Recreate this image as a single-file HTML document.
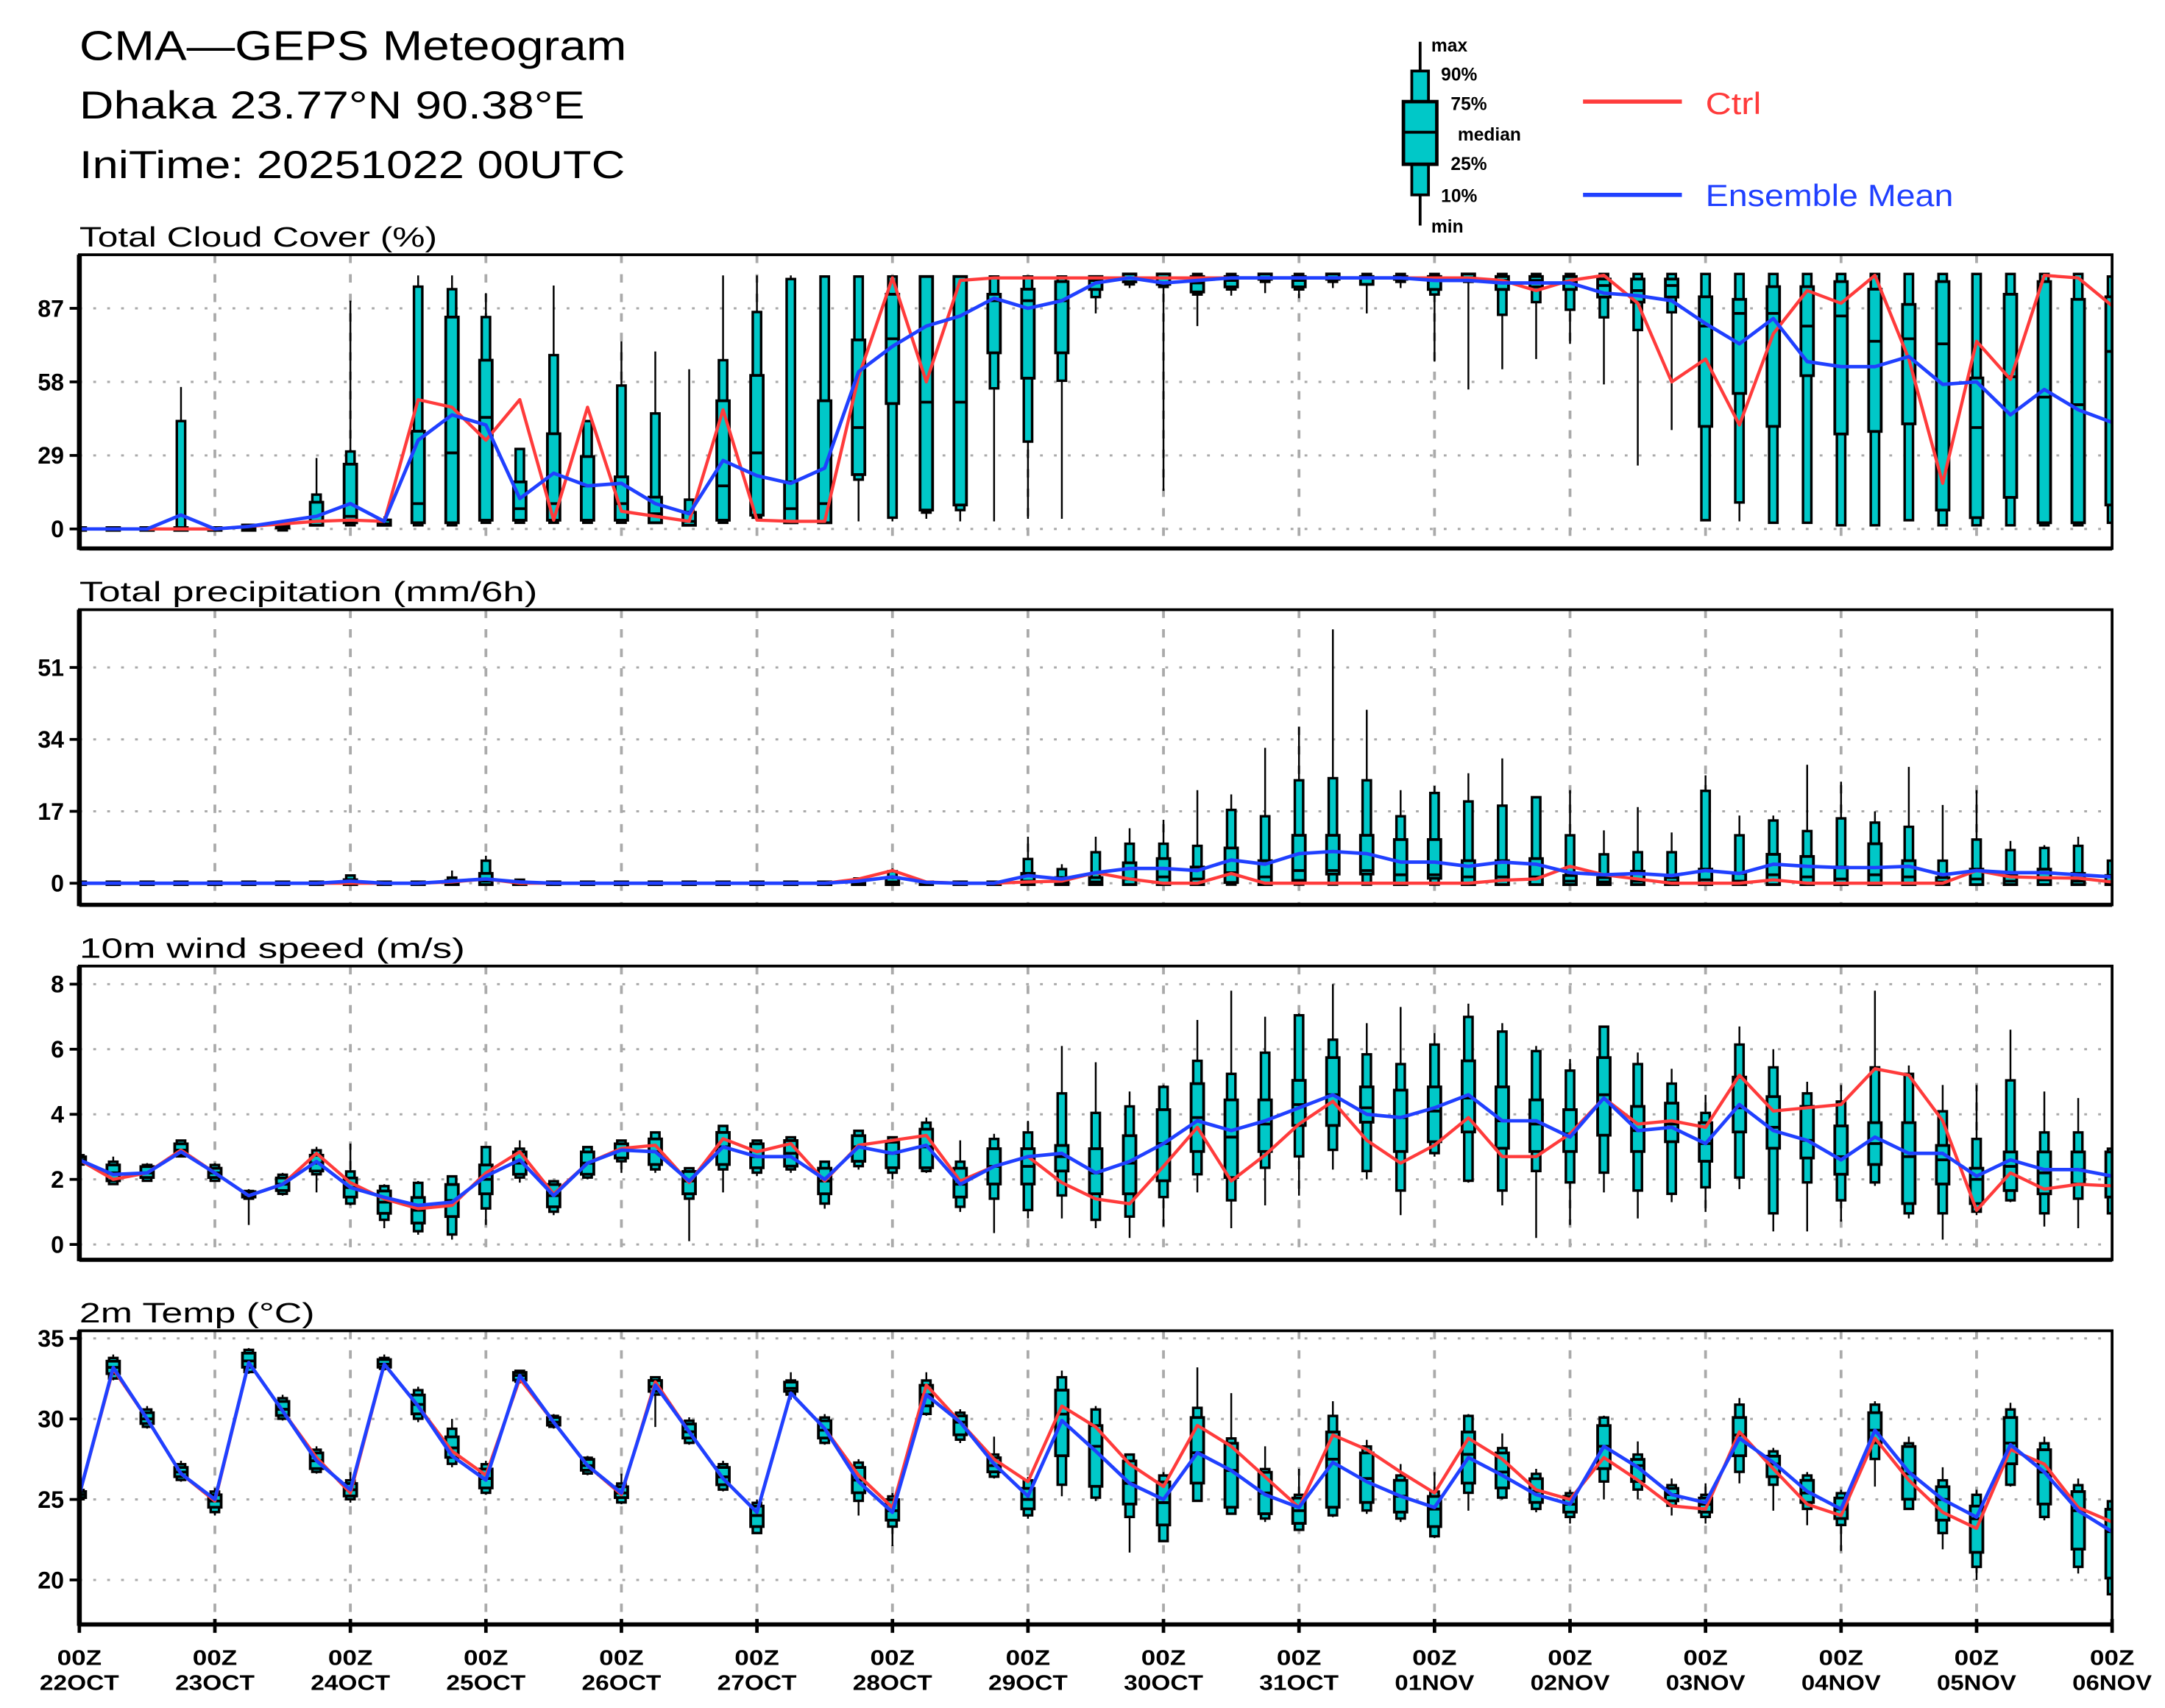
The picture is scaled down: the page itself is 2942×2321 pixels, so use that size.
<!DOCTYPE html>
<html><head><meta charset="utf-8"><title>CMA-GEPS Meteogram</title>
<style>
html,body{margin:0;padding:0;background:#fff;}
svg{display:block;}
text{font-family:"Liberation Sans",sans-serif;}
</style></head>
<body>
<svg id="chart" xmlns="http://www.w3.org/2000/svg" width="2942" height="2321" viewBox="0 0 1555 1227" preserveAspectRatio="none">
<rect x="0" y="0" width="1555" height="1227" fill="#fff"/>
<g fill="#000">
<text x="57" y="43" font-size="30" font-weight="normal" textLength="393" lengthAdjust="spacingAndGlyphs">CMA—GEPS Meteogram</text>
<text x="57" y="85" font-size="28" font-weight="normal" textLength="363" lengthAdjust="spacingAndGlyphs">Dhaka 23.77°N 90.38°E</text>
<text x="57" y="128" font-size="28" font-weight="normal" textLength="392" lengthAdjust="spacingAndGlyphs">IniTime: 20251022 00UTC</text>
</g>
<g>
<g font-weight="bold">
<line x1="1020" y1="30" x2="1020" y2="162" stroke="#000" stroke-width="2"/>
<rect x="1014" y="51" width="12" height="89" fill="#00c8c8" stroke="#000" stroke-width="2"/>
<rect x="1008" y="73" width="24" height="45" fill="#00c8c8" stroke="#000" stroke-width="2.5"/>
<line x1="1008" y1="95" x2="1032" y2="95" stroke="#000" stroke-width="2"/>
<text x="1028" y="37" font-size="13">max</text>
<text x="1035" y="58" font-size="13">90%</text>
<text x="1042" y="79" font-size="13">75%</text>
<text x="1047" y="101" font-size="13">median</text>
<text x="1042" y="122" font-size="13">25%</text>
<text x="1035" y="145" font-size="13">10%</text>
<text x="1028" y="167" font-size="13">min</text>
</g>
<g>
<line x1="1137" y1="73" x2="1208" y2="73" stroke="#ff3b3b" stroke-width="3"/>
<text x="1225" y="82" font-size="22" fill="#ff3b3b" font-weight="normal" textLength="40" lengthAdjust="spacingAndGlyphs">Ctrl</text>
</g>
<g>
<line x1="1137" y1="140" x2="1208" y2="140" stroke="#2040ff" stroke-width="3"/>
<text x="1225" y="148" font-size="22" fill="#2040ff" font-weight="normal" textLength="178" lengthAdjust="spacingAndGlyphs">Ensemble Mean</text>
</g>
</g>
<g id="plots"></g>
</svg>
<script>
// ---------- categories (6-hourly steps) ----------
const dayLabels = ["22OCT","23OCT","24OCT","25OCT","26OCT","27OCT","28OCT","29OCT","30OCT","31OCT","01NOV","02NOV","03NOV","04NOV","05NOV","06NOV"];
const stepCount = 61;

// ---------- Total Cloud Cover ----------
const cloudTicks = [0,29,58,87];
const cloudMin = [0,0,0,0,0,0,0,1,1,1, 1,1,2,2,2,2,2,2,2,2, 3,2,2,3,3,4,3,3,4,4, 85,95,15,80,92,93,91,95,85,95, 66,55,63,67,73,57,25,39,4,3, 3,3,2,2,4,2,2,2,2,2,3];
const cloudP10 = [0,0,0,0,0,0,0,2,2,2, 2,2,3,3,3,3,3,3,2,3, 5,3,3,20,5,7,8,56,35,59, 92,97,96,93,95,98,95,98,97,98, 93,98,85,90,87,84,79,86,4,11, 3,3,2,2,4,2,2,2,2,2,3];
const cloudQ1 = [0,0,0,0,0,0,1,2,3,2, 3,3,4,4,4,4,4,3,2,4, 6,3,3,22,50,8,10,70,60,70, 95,98,97,94,96,99,96,99,97,99, 95,99,95,96,95,92,90,92,41,54, 41,61,38,39,42,8,5,13,3,3,10];
const cloudMed = [0,0,0,0,0,0,1,3,5,2, 10,30,44,8,10,17,10,6,3,17, 30,8,10,40,75,50,50,90,90,90, 98,99,99,97,98,99,98,99,99,99, 98,99,98,98,97,96,94,96,80,85, 85,80,84,74,75,73,40,60,52,49,70];
const cloudQ3 = [0,0,0,0,0,1,2,10,25,3, 38,83,66,18,37,28,20,12,6,50, 60,18,50,74,92,99,99,92,94,97, 99,100,100,99,99,100,99,100,99,99, 99,100,99,99,99,98,98,98,91,90, 95,95,97,94,88,97,59,92,97,90,91];
const cloudP90 = [0,0,0,42,0,1,2,13,30,3, 95,94,83,31,68,42,56,45,11,66, 85,98,99,99,99,99,99,99,99,99, 99,100,100,100,100,100,100,100,100,100, 100,100,100,100,100,100,100,100,100,100, 100,100,100,100,100,100,100,100,100,100,99];
const cloudMax = [0,0,0,56,0,2,3,28,90,5, 100,100,93,31,96,42,74,70,63,100, 100,100,100,100,100,100,100,100,100,100, 100,100,100,100,100,100,100,100,100,100, 100,100,100,100,100,100,100,100,100,100, 100,100,100,100,100,100,100,100,100,100,100];
const cloudCtrl = [0,0,0,0,0,1,2,3,3.5,3, 51,48,35,51,3.5,48,7,5,3,47, 3.5,3,3,60,99,58,98,99,99,99, 99,99,99,99,99,99,99,99,99,99, 99,99,98,94,98,100,89,58,67,41, 77,94,89,100,67,18,74,59,100,99,88];
const cloudMean = [0,0,0,5.5,0,1,3,5,10,3, 35,45,41,12,22,17,18,10,6,27, 21,18,24,62,72,80,84,91,87,90, 97,99,97,98,99,99,99,99,99,99, 98,98,97,97,97,93,92,90,81,73, 83,66,64,64,68,57,58,45,55,47,42];

// ---------- Total precipitation ----------
const precTicks = [0,17,34,51];
const precMin = [0,0,0,0,0,0,0,0,0,0, 0,0,0,0,0,0,0,0,0,0, 0,0,0,0,0,0,0,0,0,0, 0,0,0,0,0,0,0,0,0,0, 0,0,0,0,0,0,0,0,0,0, 0,0,0,0,0,0,0,0,0,0,0];
const precP10 = [0,0,0,0,0,0,0,0,0,0, 0,0,0,0,0,0,0,0,0,0, 0,0,0,0,0,0,0,0,0,0, 0,0,0,0,0,0,0,0,0,0, 0,0,0,0,0,0,0,0,0,0, 0,0,0,0,0,0,0,0,0,0,0];
const precQ1 = [0,0,0,0,0,0,0,0,0,0, 0,0,0,0,0,0,0,0,0,0, 0,0,0,0,0,0,0,0,0,0, 0,0,0,0,0.5,0,1,2.5,2.5,0, 1.5,0,0,0,0,0,0,0,0,0, 0,0,0,0,0,0,0,0,0,0,0];
const precMed = [0,0,0,0,0,0,0,0,0.2,0, 0,0,0.5,0,0,0,0,0,0,0, 0,0,0,0,0.3,0,0,0,0.5,0.3, 0.3,1,1.5,1,2.5,1.5,3,3,3,2, 2,1.5,1.5,1.5,0.5,0.3,0.5,0.3,0.8,0.5, 2,1.5,1,2,1.5,0.3,1,0.5,0.8,0.5,0.3];
const precQ3 = [0,0,0,0,0,0,0,0,0.5,0, 0,0.3,2,0,0,0,0,0,0,0, 0,0,0,0.2,1,0,0,0,2,1, 1,4.5,5.5,3.5,8,5,11,11,11,10, 10,5,5,5.5,1.5,1,2.5,1,3,2, 6.5,6,3.5,9,5,1,3,1.5,3,2,1.5];
const precP90 = [0,0,0,0,0,0,0,0,1.5,0, 0,1,5,0.5,0,0,0,0,0,0, 0,0,0,0.8,2.5,0,0,0,5.4,3, 7,9,9,8.5,17,15.5,24,24.5,24,15.5, 21,19,18,20,11,6.5,7,7,21.5,11, 14.5,12,15,14,13,5,10,7.5,8,8.5,5];
const precMax = [0,0,0,0,0,0,0,0,2,0, 0,3,6.5,1,0,0,0,0,0,0, 0,0,0,1,3.5,0,0,0,11,4.5, 11,13,15,22,21,32,37,60,41,22, 23,26,29.5,20,22,12.5,18,12,25.5,16, 16,28,24,17,27.5,18.5,22,10,9,11,5];
const precCtrl = [0,0,0,0,0,0,0,0,0,0, 0,0.3,1,0,0,0,0,0,0,0, 0,0,0,1,3,0.3,0,0,0.3,0.5, 2.5,1,0,0,2.3,0,0,0,0,0, 0,0,0.7,1,4,2,1,0,0,0, 0.8,0,0,0,0,0,3,1.5,1.3,1.2,0.3];
const precMean = [0,0,0,0,0,0,0,0,0.5,0, 0,0.5,1,0.3,0,0,0,0,0,0, 0,0,0,0.5,1.5,0.2,0,0,1.8,1, 2.5,3.5,3.5,3,5.5,4.5,7,7.5,7,5, 5,4,5,4.5,2.5,2,2.3,1.8,3,2.3, 4.5,4,3.7,3.7,4,2,3,2.5,2.5,2,1.5];

// ---------- 10m wind speed ----------
const windTicks = [0,2,4,6,8];
const windMin = [2.5,1.85,1.95,2.7,1.95, 0.6,1.5,1.6,1.2, 0.5,0.3,0.15,0.6, 1.9,0.9,2.0,2.2, 2.2,0.1,1.6,2.1, 2.2,1.1,2.3,2.0, 2.2,1.0,0.35,0.8, 0.8,0.5, 0.2,0.55,1.6,0.5,1.2,1.5, 2.3,2.0,0.9,2.7, 1.9,1.2,0.2,0.6, 1.6,0.8,1.3,1.0, 1.7,0.4,0.4,0.7, 1.8,0.8,0.15,0.9, 1.3,0.55,0.5,0.9];
const windP10 = [2.5,1.9,2.0,2.75,2.0, 1.45,1.6,2.2,1.3, 0.8,0.45,0.35,1.15, 2.1,1.05,2.1,2.6, 2.35,1.45,2.35,2.25, 2.35,1.3,2.45,2.25, 2.3,1.2,1.45,1.1, 1.55,0.8, 0.9,1.5,2.2,1.4,2.4,2.75, 2.95,2.3,1.7,2.85, 2.0,1.7,2.3,1.95, 2.25,1.7,1.6,1.8, 2.1,1.0,1.95,1.4, 1.95,1.0,1.0,1.05, 1.4,1.0,1.45,1.0];
const windQ1 = [2.55,2.0,2.1,2.8,2.1, 1.5,1.7,2.3,1.5, 1.0,0.7,0.9,1.6, 2.2,1.2,2.2,2.7, 2.5,1.6,2.5,2.4, 2.45,1.6,2.6,2.4, 2.4,1.5,1.9,1.9, 2.3,1.6, 1.6,2.0,2.9,2.1,2.9,3.7, 3.7,3.8,2.9,3.2, 3.5,3.0,2.9,2.9, 3.4,2.9,3.2,2.6, 3.5,3.0,2.7,2.2, 2.5,1.3,1.9,1.3, 1.7,1.6,1.9,1.5];
const windMed = [2.6,2.2,2.2,2.9,2.2, 1.55,1.85,2.5,1.75, 1.3,1.05,1.35,2.0, 2.5,1.5,2.5,2.9, 2.85,1.95,3.0,2.7, 2.8,1.95,3.0,2.8, 3.0,1.85,2.4,2.4, 2.7,2.2, 2.5,3.1,3.9,3.3,3.7,4.3, 4.6,4.2,3.9,4.1, 4.5,3.8,3.7,3.4, 4.6,3.5,3.7,3.1, 4.2,3.6,3.2,2.7, 3.1,2.7,2.6,2.0, 2.4,2.2,2.3,2.1];
const windQ3 = [2.65,2.4,2.35,3.05,2.3, 1.58,2.0,2.7,2.0, 1.6,1.4,1.8,2.4, 2.8,1.8,2.8,3.05, 3.2,2.2,3.4,3.05, 3.15,2.3,3.3,3.1, 3.5,2.3,2.9,2.9, 3.0,2.9, 3.3,4.1,4.9,4.4,4.4,5.0, 5.7,4.8,4.7,4.8, 5.6,4.8,4.4,4.1, 5.7,4.2,4.3,3.7, 5.1,4.5,4.2,3.6, 3.7,3.7,3.0,2.3, 2.8,2.8,2.8,2.8];
const windP90 = [2.7,2.5,2.4,3.15,2.4, 1.6,2.1,2.85,2.2, 1.75,1.85,2.05,2.95, 2.9,1.9,2.95,3.15, 3.4,2.3,3.6,3.15, 3.25,2.5,3.45,3.25, 3.7,2.5,3.2,3.4, 4.6,4.0, 4.2,4.8,5.6,5.2,5.85,7.0, 6.25,5.8,5.5,6.1, 6.95,6.5,5.9,5.3, 6.65,5.5,4.9,4.0, 6.1,5.4,4.6,4.35, 5.4,5.2,4.05,3.2, 5.0,3.4,3.4,2.9];
const windMax = [2.7,2.7,2.5,3.2,2.5, 1.7,2.2,3.0,3.1, 1.85,1.95,2.1,3.0, 3.2,1.95,3.0,3.2, 3.45,2.35,3.65,3.2, 3.3,2.55,3.5,3.3, 3.9,3.2,3.4,3.8, 6.1,5.6, 4.7,4.9,6.9,7.8,7.0,7.1, 8.0,6.8,7.3,6.5, 7.4,6.8,6.1,5.7, 6.7,5.9,5.4,4.6, 6.7,6.0,5.0,4.9, 7.8,5.5,4.9,4.9, 6.6,4.7,4.5,3.0];
const windCtrl = [2.6,2.0,2.2,2.9,2.2, 1.5,1.85,2.8,1.9, 1.4,1.1,1.2,2.2, 2.85,1.55,2.5,2.95, 3.05,1.9,3.25,2.85, 3.1,1.95,3.05,3.2, 3.35,1.95,2.4,2.7, 1.9,1.4, 1.25,2.4,3.6,1.95,2.75,3.7, 4.4,3.2,2.5,3.05, 3.9,2.7,2.7,3.4, 4.5,3.7,3.8,3.6, 5.2,4.1,4.2,4.3, 5.4,5.2,3.8,1.05, 2.2,1.7,1.85,1.8];
const windMean = [2.6,2.15,2.2,2.85,2.2, 1.5,1.85,2.55,1.75, 1.45,1.2,1.3,2.1, 2.6,1.5,2.5,2.9, 2.85,1.95,3.0,2.7, 2.7,2.0,3.0,2.8, 3.05,1.85,2.4,2.7, 2.8,2.2, 2.55,3.1,3.8,3.5,3.8,4.2, 4.6,4.0,3.9,4.2, 4.6,3.8,3.8,3.3, 4.5,3.5,3.6,3.1, 4.3,3.5,3.2,2.6, 3.3,2.8,2.8,2.1, 2.6,2.3,2.3,2.1];

// ---------- 2m Temperature ----------
const tempTicks = [20,25,30,35];
const tempMin = [25.0, 32.4,29.4,26.1,24.0, 32.8,29.9,26.6,24.8, 33.0,29.8,27.0,25.3, 32.2,29.4,26.5,24.7, 29.5,28.4,25.5,22.9, 31.2,28.4,24.0,22.1, 30.2,28.5,26.3,23.8, 25.2,24.9, 21.7,22.4,25.0,24.3,23.6,23.1, 23.9,24.1,23.6,22.6, 24.3,25.0,24.2,23.5, 25.0,25.0,24.0,23.5, 26.0,24.3,23.4,21.8, 25.8,24.4,21.9,20.0, 25.8,23.7,20.4,18.9];
const tempP10 = [25.1, 32.6,29.6,26.3,24.3, 33.0,30.1,26.8,25.1, 33.2,30.1,27.3,25.5, 32.4,29.6,26.7,24.9, 31.6,28.6,25.7,23.0, 31.6,28.6,25.0,23.4, 30.4,28.8,26.5,24.1, 26.0,25.2, 24.0,22.5,25.0,24.2,23.9,23.2, 24.1,24.4,23.9,22.8, 25.5,25.2,24.5,24.0, 26.2,25.7,24.7,24.0, 26.8,26.0,24.5,23.5, 27.6,24.5,23.0,20.9, 26.0,24.0,20.9,19.2];
const tempQ1 = [25.2, 32.9,29.8,26.5,24.6, 33.3,30.3,27.0,25.3, 33.3,30.4,27.7,25.8, 32.5,29.7,26.9,25.2, 31.8,28.9,26.0,23.4, 31.8,28.9,25.5,23.8, 30.9,29.1,26.8,24.5, 27.8,25.9, 24.8,23.5,26.1,24.6,24.2,23.6, 24.6,24.9,24.3,23.4, 26.1,25.8,24.9,24.3, 27.0,26.2,25.0,24.3, 27.8,26.5,24.9,23.9, 28.6,25.1,23.8,21.8, 27.3,24.8,22.0,20.2];
const tempMed = [25.3, 33.2,30.0,26.7,24.9, 33.6,30.6,27.4,25.6, 33.4,30.9,28.2,26.3, 32.7,29.8,27.1,25.4, 32.0,29.2,26.4,24.0, 31.9,29.3,26.2,24.3, 31.5,29.8,27.1,25.0, 30.3,28.3, 26.0,24.8,27.9,26.8,25.4,24.3, 27.5,26.3,25.2,24.4, 27.8,26.7,25.5,24.7, 28.3,27.1,25.3,24.7, 29.0,27.2,25.4,24.4, 29.3,26.6,25.0,23.8, 28.5,26.7,24.3,23.0];
const tempQ3 = [25.4, 33.5,30.3,26.9,25.2, 34.0,31.0,27.8,25.9, 33.6,31.4,28.8,26.8, 32.8,30.0,27.4,25.7, 32.3,29.6,26.9,24.5, 32.2,29.8,26.9,24.9, 32.0,30.1,27.5,25.6, 31.7,29.5, 27.3,26.0,30.0,28.4,26.6,25.0, 29.1,27.8,26.1,25.1, 29.1,27.8,26.2,25.1, 29.5,27.4,25.6,25.0, 30.0,27.6,26.1,25.0, 30.3,28.2,25.7,24.5, 30.0,28.0,25.4,24.3];
const tempP90 = [25.5, 33.7,30.5,27.1,25.4, 34.2,31.2,28.0,26.1, 33.7,31.7,29.3,27.1, 32.9,30.1,27.5,25.9, 32.5,29.8,27.1,24.7, 32.3,30.0,27.2,25.1, 32.3,30.3,27.7,26.1, 32.5,30.5, 27.7,26.4,30.6,28.7,26.8,25.2, 30.1,28.2,26.4,25.4, 30.1,28.1,26.5,25.3, 30.0,27.7,25.8,25.2, 30.8,27.9,26.4,25.3, 30.8,28.4,26.1,25.2, 30.5,28.4,25.8,24.8];
const tempMax = [25.6, 34.0,30.8,27.4,25.7, 34.4,31.5,28.3,26.7, 34.0,32.0,30.0,27.4, 33.0,30.3,27.7,26.6, 32.6,30.1,27.4,25.0, 32.9,30.3,27.5,25.4, 32.9,30.6,28.9,26.4, 33.0,30.8, 27.8,26.7,33.2,31.6,28.3,26.9, 31.1,28.7,27.2,26.7, 30.3,29.1,26.9,25.6, 30.2,28.6,26.3,26.0, 31.3,28.2,26.7,25.6, 31.1,28.9,27.0,25.6, 31.0,28.9,26.3,25.0];
const tempCtrl = [25.3, 33.1,30.0,26.6,24.9, 33.5,30.5,27.6,25.4, 33.4,30.8,28.0,26.5, 32.5,29.8,27.1,25.3, 32.3,29.2,26.3,24.2, 31.6,29.4,26.5,24.5, 32.1,29.8,27.5,26.1, 30.8,29.5, 27.2,25.8,29.6,28.3,26.4,24.5, 29.0,28.1,26.7,25.4, 28.8,27.5,25.6,25.0, 27.6,26.2,24.6,24.4, 29.2,26.9,24.7,24.0, 28.8,26.2,24.2,23.2, 28.1,27.2,24.5,23.6];
const tempMean = [25.3, 33.2,30.0,26.6,25.0, 33.5,30.5,27.4,25.6, 33.4,30.8,27.7,26.2, 32.7,29.8,27.1,25.4, 32.1,29.2,26.3,24.2, 31.6,29.4,26.1,24.2, 31.5,29.8,27.2,25.2, 29.9,28.0, 26.0,25.0,27.9,26.8,25.3,24.5, 27.3,26.1,25.2,24.5, 27.6,26.5,25.3,24.7, 28.3,27.0,25.3,24.8, 28.8,27.3,25.5,24.4, 29.3,26.7,25.0,23.9, 28.4,26.7,24.3,23.0];

// ---------- layout ----------
const NS = "http://www.w3.org/2000/svg";
const plotLeft = 57, plotRight = 1517;
function xScale(i){ return plotLeft + (plotRight - plotLeft) * i / (stepCount - 1); }
function makeY(v0, p0, v1, p1){ return v => p0 + (v - v0) * (p1 - p0) / (v1 - v0); }

const panels = [
 {name:"cloud-cover", title:"Total Cloud Cover (%)", titleW:257, top:183, bottom:394, y:makeY(0,380,87,221.5), ticks:cloudTicks,
  mn:cloudMin,p10:cloudP10,q1:cloudQ1,med:cloudMed,q3:cloudQ3,p90:cloudP90,mx:cloudMax,ctrl:cloudCtrl,mean:cloudMean},
 {name:"precipitation", title:"Total precipitation (mm/6h)", titleW:329, top:438, bottom:650, y:makeY(0,634.5,51,479.5), ticks:precTicks,
  mn:precMin,p10:precP10,q1:precQ1,med:precMed,q3:precQ3,p90:precP90,mx:precMax,ctrl:precCtrl,mean:precMean},
 {name:"wind-speed", title:"10m wind speed (m/s)", titleW:277, top:694, bottom:905, y:makeY(0,894,8,707), ticks:windTicks,
  mn:windMin,p10:windP10,q1:windQ1,med:windMed,q3:windQ3,p90:windP90,mx:windMax,ctrl:windCtrl,mean:windMean},
 {name:"temperature", title:"2m Temp (°C)", titleW:169, top:956, bottom:1167, y:makeY(20,1135,35,961.5), ticks:tempTicks,
  mn:tempMin,p10:tempP10,q1:tempQ1,med:tempMed,q3:tempQ3,p90:tempP90,mx:tempMax,ctrl:tempCtrl,mean:tempMean}
];

const root = document.getElementById("plots");
function el(tag, attrs, parent){
  const e = document.createElementNS(NS, tag);
  for (const k in attrs) e.setAttribute(k, attrs[k]);
  (parent || root).appendChild(e);
  return e;
}

panels.forEach((p, pi) => {
  const g = el("g", {});
  
  

  const clipId = "clip" + pi;
  const cp = el("clipPath", {id: clipId}, g);
  el("rect", {x: plotLeft, y: p.top, width: plotRight - plotLeft, height: p.bottom - p.top}, cp);

  const t = el("text", {x: 57, y: p.top - 6, "font-size": 20, "font-weight": "normal", textLength: p.titleW, lengthAdjust: "spacingAndGlyphs"}, g);
  t.textContent = p.title;
  
  

  p.ticks.forEach(v => {
    const yy = p.y(v);
    const gl = el("line", {x1: plotLeft, x2: plotRight, y1: yy, y2: yy, stroke: "#aaa", "stroke-width": 1.6, "stroke-dasharray": "2 8"}, g);
    
    
    el("line", {x1: plotLeft - 7, x2: plotLeft, y1: yy, y2: yy, stroke: "#000", "stroke-width": 2}, g);
    const lb = el("text", {x: 46, y: yy + 6, "font-size": 17, "font-weight": "bold", "text-anchor": "end"}, g);
    lb.textContent = String(v);
    
    
  });

  for (let d = 1; d < dayLabels.length - 1; d++) {
    const xx = xScale(d * 4);
    const vl = el("line", {x1: xx, x2: xx, y1: p.top, y2: p.bottom, stroke: "#aaa", "stroke-width": 2, "stroke-dasharray": "6 8"}, g);
    
    
  }

  const bg = el("g", {"clip-path": "url(#" + clipId + ")"}, g);
  
  
  for (let i = 0; i < stepCount; i++) {
    if (p.mx[i] === undefined) continue;
    const cx = xScale(i);
    const bx = el("g", {}, bg);
    
    
    el("line", {x1: cx, x2: cx, y1: p.y(p.mx[i]), y2: p.y(p.mn[i]), stroke: "#000", "stroke-width": 1.3}, bx);
    const yTop = p.y(p.p90[i]), yBot = p.y(p.p10[i]);
    el("rect", {x: cx - 3, y: yTop - 1, width: 6, height: Math.max(2, yBot - yTop + 2), fill: "#00c8c8", stroke: "#000", "stroke-width": 1.8}, bx);
    const qTop = p.y(p.q3[i]), qBot = p.y(p.q1[i]);
    el("rect", {x: cx - 4.5, y: qTop - 1, width: 9, height: Math.max(2, qBot - qTop + 2), fill: "#00c8c8", stroke: "#000", "stroke-width": 2}, bx);
    const my = p.y(p.med[i]);
    el("line", {x1: cx - 4.5, x2: cx + 4.5, y1: my, y2: my, stroke: "#000", "stroke-width": 2}, bx);
  }

  const lineFor = (arr, color, nm, w) => {
    let d = "";
    arr.forEach((v, i) => { d += (i ? "L" : "M") + xScale(i).toFixed(2) + " " + p.y(v).toFixed(2); });
    const pl = el("path", {d: d, fill: "none", stroke: color, "stroke-width": w, "stroke-linejoin": "round", "clip-path": "url(#" + clipId + ")"}, g);
    
    
  };
  lineFor(p.ctrl, "#ff3b3b", p.name + '-ctrl-line', 2.3);
  lineFor(p.mean, "#2040ff", p.name + '-mean-line', 2.5);

  const fr = el("rect", {x: plotLeft, y: p.top, width: plotRight - plotLeft, height: p.bottom - p.top, fill: "none", stroke: "#000", "stroke-width": 2}, g);
  
  
  el("line", {x1: plotLeft, x2: plotLeft, y1: p.top, y2: p.bottom + 1, stroke: "#000", "stroke-width": 3.5}, g);
  el("line", {x1: plotLeft, x2: plotRight, y1: p.bottom, y2: p.bottom, stroke: "#000", "stroke-width": 3}, g);
});

const xg = el("g", {});


dayLabels.forEach((lab, d) => {
  const xx = xScale(d * 4);
  el("line", {x1: xx, x2: xx, y1: 1163, y2: 1173, stroke: "#000", "stroke-width": 2.5}, xg);
  const a = el("text", {x: xx, y: 1196, "font-size": 15, "font-weight": "bold", "text-anchor": "middle", textLength: 32, lengthAdjust: "spacingAndGlyphs"}, xg);
  a.textContent = "00Z";
  
  
  const b = el("text", {x: xx, y: 1214, "font-size": 15, "font-weight": "bold", "text-anchor": "middle", textLength: 57, lengthAdjust: "spacingAndGlyphs"}, xg);
  b.textContent = lab;
  
  
});
</script>
</body></html>
